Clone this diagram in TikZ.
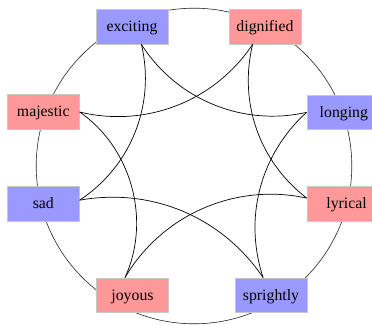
\documentclass[tikz,border=0pt]{standalone}
\usepackage{fontspec}
\setmainfont{Liberation Serif}
\definecolor{nodeblue}{RGB}{153,153,255}
\definecolor{nodered}{RGB}{255,153,153}
\begin{document}
\begin{tikzpicture}[x=1pt,y=1pt,
  wordbox/.style={rectangle, minimum width=72pt, minimum height=34.7pt, inner sep=0pt,
    text height=12pt, text depth=2pt, draw=black!22, line width=0.7pt,
    font=\fontsize{15.8}{18}\selectfont},
  bluebox/.style={wordbox, fill=nodeblue},
  redbox/.style={wordbox, fill=nodered},
  ring/.style={draw=black!85, line width=0.6pt},
  link/.style={draw=black, line width=0.7pt, looseness=0.94}]
\useasboundingbox (0,0) rectangle (372,324);
\draw[ring] (194,158) circle[radius=157.8pt];
\node[bluebox] (exciting) at (132,297.3) {exciting};
\node[redbox] (dignified) at (265,297.3) {dignified};
\node[bluebox, minimum width=74pt, anchor=west] (longing) at (306.5,211.6) {longing};
\node[redbox, minimum width=79pt, anchor=west] (lyrical) at (306.7,120.3) {lyrical};
\node[bluebox] (sprightly) at (271,28.7) {sprightly};
\node[redbox] (joyous) at (132.5,28.7) {joyous};
\node[bluebox] (sad) at (43.3,120) {sad};
\node[redbox] (majestic) at (43.3,212) {majestic};
\draw[link] (exciting.-62.5) to[bend right=35] (longing.180);
\draw[link] (exciting.-62.5) to[bend left=35] (sad.6);
\draw[link] (dignified.235) to[bend left=35] (majestic.0);
\draw[link] (dignified.235) to[bend right=33] (lyrical.172);
\draw[link] (majestic.0) to[bend left=40] (joyous.113);
\draw[link] (longing.180) to[bend right=33] (sprightly.114);
\draw[link] (sad.6) to[bend left=33] (sprightly.114);
\draw[link] (lyrical.172) to[bend right=36] (joyous.113);
\end{tikzpicture}
\end{document}
